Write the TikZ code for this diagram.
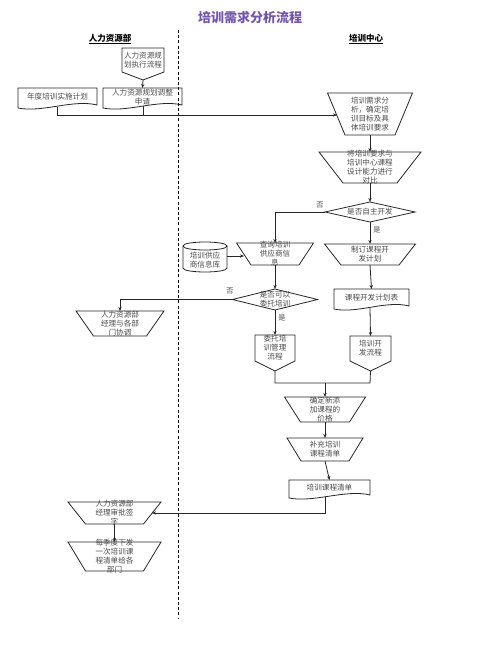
\documentclass[tikz,border=0pt]{standalone}
\usepackage{fontspec}
\newfontfamily\cjk{Noto Sans CJK SC}
\usetikzlibrary{arrows.meta}
\definecolor{ttl}{RGB}{115,85,175}
\tikzset{
  shp/.style={draw=black!85, line width=0.8pt},
  ln/.style={draw=black!85, line width=0.8pt},
  arr/.style={ln, -{Stealth[length=4pt,width=3.2pt]}},
  txt/.style={font={\cjk\fontsize{7.6}{9}\selectfont}, text=black!70, align=center, inner sep=0pt},
  lbl/.style={font={\cjk\fontsize{7.2}{8}\selectfont}, text=black!70, inner sep=0pt},
}
% manual-operation trapezoid: name, cx, ytop, ybot, halftop, halfbot, text
\newcommand\mtrap[7]{%
  \draw[shp] ({#2-#5},#3) -- ({#2+#5},#3) -- ({#2+#6},#4) -- ({#2-#6},#4) -- cycle;
  \node[txt] (#1) at (#2,{(#3+#4)/2}) {#7};
  \coordinate (#1-n) at (#2,#3);
  \coordinate (#1-s) at (#2,#4);
}
% document shape: name, x1, x2, ytop, ybot, text
\newcommand\docbox[6]{%
  \draw[shp] (#2,#4) -- (#3,#4) -- (#3,{#5-3}) .. controls ({#3-(#3-#2)*0.3},{#5-9}) and ({#2+(#3-#2)*0.3},{#5+5}) .. (#2,#5) -- cycle;
  \node[txt] (#1) at ({(#2+#3)/2},{(#4+#5)/2-1}) {#6};
  \coordinate (#1-n) at ({(#2+#3)/2},#4);
}
% off-page shape: name, x1, x2, ytop, yrect, ypoint, text
\newcommand\offpg[7]{%
  \draw[shp] (#2,#4) -- (#3,#4) -- (#3,#5) -- ({(#2+#3)/2},#6) -- (#2,#5) -- cycle;
  \node[txt] (#1) at ({(#2+#3)/2},{(#4+#5)/2}) {#7};
  \coordinate (#1-n) at ({(#2+#3)/2},#4);
  \coordinate (#1-s) at ({(#2+#3)/2},#6);
}
% decision: name, cx, cy, hw, hh, text
\newcommand\dcs[6]{%
  \draw[shp] ({#2-#4},#3) -- (#2,{#3-#5}) -- ({#2+#4},#3) -- (#2,{#3+#5}) -- cycle;
  \node[txt] (#1) at (#2,#3) {#6};
  \coordinate (#1-n) at (#2,{#3-#5});
  \coordinate (#1-s) at (#2,{#3+#5});
  \coordinate (#1-w) at ({#2-#4},#3);
}
\begin{document}
\begin{tikzpicture}[x=1pt,y=-1pt]
\useasboundingbox[fill=white] (0,0) rectangle (500,666);

% title and lane headings
\node[font={\cjk\bfseries\fontsize{13}{15}\selectfont}, text=ttl] (title) at (250,18) {培训需求分析流程};
\node[font={\cjk\bfseries\fontsize{8.5}{10}\selectfont}] (hr) at (110,39) {\underline{人力资源部}};
\node[font={\cjk\bfseries\fontsize{8.5}{10}\selectfont}] (tc) at (366,39) {\underline{培训中心}};
\coordinate (lt) at (178,30);
\coordinate (lb) at (178,618);
\draw[line width=1pt, dash pattern=on 3pt off 2.2pt] (lt) -- (lb);

% left lane top
\offpg{A}{122}{164}{48}{72}{80}{人力资源规\\划执行流程}
\docbox{B}{103}{182}{88}{108}{人力资源规划调整\\申请}
\docbox{C}{18}{97}{88}{108}{年度培训实施计划}
\coordinate (B-s) at (143,106);
\coordinate (C-s) at (57,107);
\coordinate (j1) at (143,115);

% right lane
\mtrap{T1}{370}{93}{135}{42.5}{25}{培训需求分\\析，确定培\\训目标及具\\体培训要求}
\coordinate (T1-w) at (337,115);
\mtrap{T2}{370}{152}{183}{51}{27}{将培训要求与\\培训中心课程\\设计能力进行\\对比}
\dcs{D1}{370}{212}{45}{10}{是否自主开发}
\mtrap{T3}{275}{243}{265}{38.5}{24}{查询培训\\供应商信\\息}
\coordinate (T3-w) at (244,256);
\mtrap{T4}{370}{244}{265}{45.5}{29}{制订课程开\\发计划}

% database
\draw[shp] (183,246) .. controls (183,240.67) and (227,240.67) .. (227,246)
  .. controls (227,251.33) and (183,251.33) .. (183,246);
\draw[shp] (183,246) -- (183,268) .. controls (183,273.33) and (227,273.33) .. (227,268) -- (227,246);
\node[txt] (DB) at (205,260) {培训供应\\商信息库};
\coordinate (DB-e) at (227,256);

\dcs{D2}{275}{299.5}{42.5}{10.5}{是否可以\\委托培训}
\mtrap{T5}{120}{311}{336}{44}{26.5}{人力资源部\\经理与各部\\门协调}
\offpg{E1}{255}{295}{335}{361}{371}{委托培\\训管理\\流程}
\docbox{DOC}{334}{409}{289}{309}{课程开发计划表}
\coordinate (DOC-s) at (370,308);
\offpg{E2}{350}{391}{336}{361}{371}{培训开\\发流程}
\coordinate (m1) at (275,383);
\coordinate (m2) at (370,383);
\coordinate (m3) at (325,383);
\mtrap{T6}{325}{397}{422}{40.5}{24.5}{确定新添\\加课程的\\价格}
\mtrap{T7}{325}{438}{461}{38}{24}{补充培训\\课程清单}
\docbox{DOC2}{289}{370}{480}{498}{培训课程清单}
\coordinate (DOC2-s) at (325,497);
\mtrap{T8}{114.5}{502}{524}{46.5}{29}{人力资源部\\经理审批签\\字}
\coordinate (T8-e) at (152,513);
\mtrap{T9}{114.5}{542}{571}{46.5}{29}{每季度下发\\一次培训课\\程清单给各\\部门}

% connectors
\draw[arr] (A-s) -- (B-n);
\draw[ln] (B-s) -- (j1);
\draw[arr] (C-s) |- (T1-w);
\draw[arr] (T1-s) -- (T2-n);
\draw[arr] (T2-s) -- (D1-n);
\draw[arr] (D1-w) -| (T3-n);
\draw[arr] (D1-s) -- (T4-n);
\draw[arr] (DB-e) -- (T3-w);
\draw[arr] (T3-s) -- (D2-n);
\draw[arr] (D2-w) -| (T5-n);
\draw[arr] (D2-s) -- (E1-n);
\draw[arr] (T4-s) -- (DOC-n);
\draw[arr] (DOC-s) -- (E2-n);
\draw[ln] (E1-s) -- (m1) -- (m2) -- (E2-s);
\draw[arr] (m3) -- (T6-n);
\draw[arr] (T6-s) -- (T7-n);
\draw[arr] (T7-s) -- (DOC2-n);
\draw[arr] (DOC2-s) |- (T8-e);
\draw[arr] (T8-s) -- (T9-n);

% branch labels
\node[lbl] (no1) at (320,205) {否};
\node[lbl] (yes1) at (377,230) {是};
\node[lbl] (no2) at (230,291) {否};
\node[lbl] (yes2) at (282,318) {是};
\end{tikzpicture}
\end{document}
